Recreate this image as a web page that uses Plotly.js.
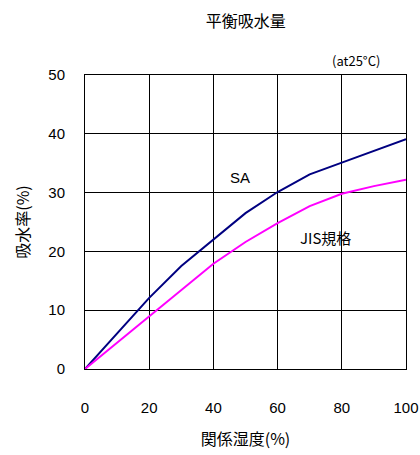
<!DOCTYPE html>
<html>
<head>
<meta charset="utf-8">
<script src="https://cdn.plot.ly/plotly-3.0.1.min.js"></script>
<style>html,body{margin:0;padding:0;background:#fff;}#chart{width:420px;height:455px;}</style>
</head>
<body>
<div id="chart"></div>
<script>
const humidity = [0, 10, 20, 30, 40, 50, 60, 70, 80, 90, 100];
const saValues = [0, 6, 12.1, 17.5, 22, 26.5, 30.1, 33.1, 35.1, 37.1, 39.1];
const jisValues = [0, 4.5, 8.9, 13.5, 17.9, 21.6, 24.8, 27.7, 29.8, 31.1, 32.2];
const xTicks = [0, 20, 40, 60, 80, 100];
const yTicks = [0, 10, 20, 30, 40, 50];

const jp = '"Noto Sans CJK JP", "Liberation Sans", sans-serif';
const num = '"Liberation Sans", Arial, sans-serif';

const traces = [
  {x: humidity, y: saValues, mode: 'lines', name: 'SA', line: {color: '#000080', width: 2}},
  {x: humidity, y: jisValues, mode: 'lines', name: 'JIS規格', line: {color: '#ff00ff', width: 2}}
];

const layout = {
  width: 420, height: 455,
  margin: {l: 85, r: 14, t: 75, b: 86},
  paper_bgcolor: '#fff', plot_bgcolor: '#fff',
  showlegend: false,
  title: {text: '平衡吸水量', font: {family: jp, size: 16, color: '#000'}, x: 0.585, xanchor: 'center', y: 0.952, yanchor: 'middle'},
  xaxis: {
    range: [0, 100], tickvals: xTicks, ticktext: xTicks.map(String),
    showgrid: true, gridcolor: '#000', gridwidth: 1,
    showline: true, linecolor: '#000', linewidth: 1, mirror: true,
    zeroline: false, ticks: '', ticklabelstandoff: 25,
    tickfont: {family: num, size: 15, color: '#000'},
    title: {text: '関係湿度(%)', font: {family: jp, size: 16, color: '#000'}, standoff: 18}
  },
  yaxis: {
    range: [0, 50], tickvals: yTicks, ticktext: yTicks.map(String),
    showgrid: true, gridcolor: '#000', gridwidth: 1,
    showline: true, linecolor: '#000', linewidth: 1, mirror: true,
    zeroline: false, ticks: '', ticklabelstandoff: 16,
    tickfont: {family: num, size: 15, color: '#000'},
    title: {text: '吸水率(%)', font: {family: jp, size: 16, color: '#000'}, standoff: 14}
  },
  annotations: [
    {x: 48.3, y: 32.6, xref: 'x', yref: 'y', text: 'SA', showarrow: false, font: {family: num, size: 15, color: '#000'}},
    {x: 74.8, y: 22.4, xref: 'x', yref: 'y', text: 'JIS規格', showarrow: false, font: {family: jp, size: 15, color: '#000'}},
    {x: 1, y: 1, xref: 'paper', yref: 'paper', xanchor: 'right', yanchor: 'bottom', xshift: -24, yshift: 3, text: '(at25°C)', showarrow: false, font: {family: jp, size: 13, color: '#000'}}
  ]
};

Plotly.newPlot('chart', traces, layout, {displayModeBar: false, staticPlot: true});
</script>
</body>
</html>
